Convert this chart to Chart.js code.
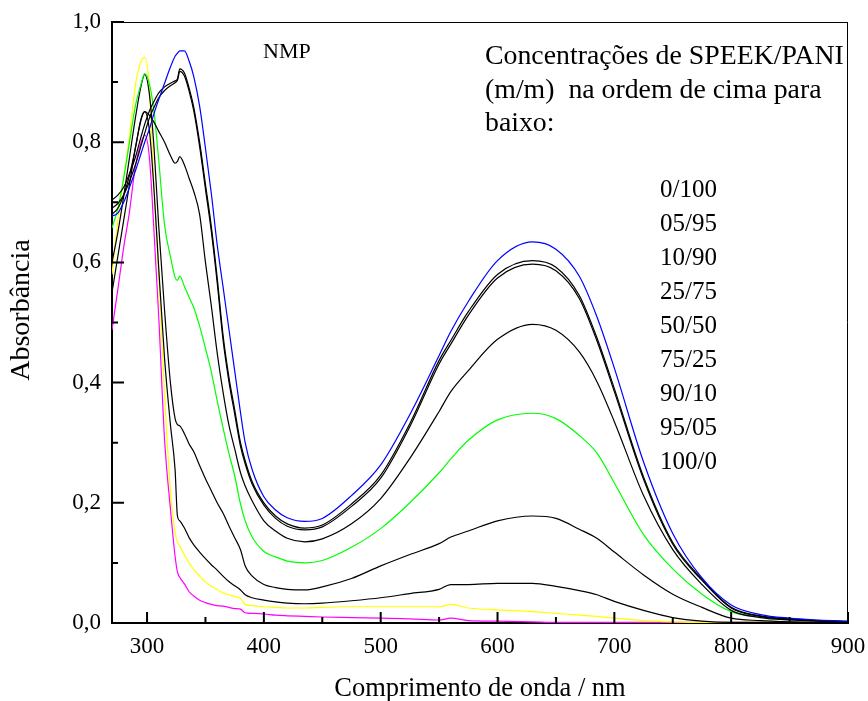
<!DOCTYPE html>
<html>
<head>
<meta charset="utf-8">
<script src="https://cdn.jsdelivr.net/npm/chart.js@4/dist/chart.umd.min.js"></script>
<style>
html,body{margin:0;padding:0;background:#fff;}
#wrap{width:868px;height:701px;}
</style>
</head>
<body>
<div id="wrap"><canvas id="c" width="868" height="701"></canvas></div>
<script>
// wavelength grid (nm)
const wavelengths = [270,275,280,285,290,295,298,302,306,310,315,320,324,326,328,332,336,340,345,350,355,360,365,370,375,380,384,390,400,410,420,435,450,475,500,525,550,560,575,600,630,650,670,685,700,725,750,775,800,825,850,875,900];

// SPEEK/PANI (m/m) series, absorbance
const s0_100 = [0.677,0.682,0.700,0.725,0.752,0.782,0.800,0.822,0.848,0.871,0.898,0.925,0.943,0.948,0.952,0.952,0.935,0.909,0.860,0.790,0.715,0.630,0.560,0.490,0.420,0.350,0.300,0.255,0.210,0.188,0.175,0.169,0.174,0.212,0.263,0.347,0.445,0.485,0.535,0.603,0.634,0.622,0.577,0.510,0.424,0.268,0.149,0.075,0.030,0.014,0.008,0.005,0.003];
const s05_95 = [0.704,0.712,0.725,0.748,0.775,0.810,0.830,0.852,0.868,0.882,0.892,0.898,0.902,0.905,0.922,0.915,0.890,0.858,0.800,0.730,0.660,0.575,0.480,0.410,0.355,0.300,0.270,0.235,0.200,0.178,0.165,0.158,0.163,0.198,0.246,0.332,0.437,0.470,0.518,0.580,0.603,0.592,0.545,0.475,0.390,0.243,0.134,0.073,0.026,0.012,0.007,0.004,0.002];
const s10_90 = [0.690,0.698,0.712,0.735,0.762,0.795,0.815,0.840,0.858,0.874,0.886,0.894,0.899,0.903,0.918,0.910,0.885,0.852,0.793,0.722,0.652,0.567,0.472,0.403,0.348,0.294,0.265,0.231,0.196,0.174,0.161,0.155,0.160,0.194,0.241,0.327,0.431,0.464,0.512,0.574,0.597,0.586,0.540,0.470,0.385,0.239,0.131,0.071,0.025,0.011,0.006,0.004,0.002];
const s25_75 = [0.680,0.690,0.712,0.745,0.790,0.838,0.851,0.845,0.833,0.818,0.800,0.778,0.765,0.768,0.776,0.762,0.740,0.718,0.680,0.600,0.528,0.450,0.385,0.330,0.290,0.250,0.228,0.203,0.170,0.153,0.141,0.135,0.140,0.165,0.207,0.274,0.352,0.385,0.420,0.472,0.497,0.487,0.451,0.402,0.335,0.212,0.122,0.064,0.021,0.009,0.005,0.003,0.002];
const s50_50 = [0.657,0.690,0.740,0.800,0.860,0.898,0.914,0.897,0.850,0.770,0.662,0.610,0.575,0.570,0.577,0.560,0.542,0.525,0.494,0.457,0.418,0.370,0.325,0.283,0.245,0.198,0.170,0.143,0.119,0.110,0.103,0.100,0.104,0.126,0.157,0.200,0.250,0.273,0.304,0.338,0.349,0.340,0.312,0.283,0.233,0.147,0.090,0.048,0.019,0.010,0.006,0.004,0.003];
const s75_25 = [0.600,0.650,0.710,0.775,0.840,0.895,0.913,0.880,0.790,0.660,0.520,0.400,0.340,0.330,0.328,0.315,0.298,0.285,0.262,0.240,0.220,0.200,0.183,0.162,0.142,0.122,0.095,0.078,0.064,0.059,0.056,0.055,0.060,0.074,0.095,0.114,0.132,0.143,0.153,0.170,0.178,0.174,0.156,0.141,0.118,0.080,0.048,0.026,0.008,0.004,0.002,0.001,0.001];
const s90_10 = [0.550,0.610,0.670,0.730,0.790,0.840,0.851,0.820,0.720,0.590,0.440,0.330,0.255,0.178,0.170,0.158,0.142,0.130,0.118,0.107,0.097,0.088,0.078,0.069,0.062,0.055,0.047,0.042,0.038,0.035,0.033,0.032,0.033,0.037,0.042,0.049,0.056,0.064,0.064,0.066,0.066,0.061,0.054,0.047,0.036,0.021,0.009,0.003,0.001,0.001,0.001,0.001,0.001];
const s95_05 = [0.580,0.670,0.740,0.810,0.895,0.935,0.941,0.890,0.720,0.580,0.380,0.220,0.150,0.135,0.128,0.113,0.100,0.089,0.078,0.068,0.061,0.056,0.050,0.047,0.044,0.041,0.031,0.029,0.027,0.026,0.025,0.025,0.026,0.027,0.027,0.027,0.027,0.031,0.025,0.022,0.019,0.016,0.013,0.011,0.008,0.004,0.002,0.001,0.001,0.001,0.001,0.001,0.001];
const s100_0 = [0.488,0.555,0.625,0.685,0.760,0.800,0.812,0.775,0.650,0.510,0.305,0.190,0.111,0.085,0.076,0.065,0.052,0.045,0.038,0.034,0.031,0.029,0.028,0.026,0.024,0.023,0.017,0.016,0.015,0.013,0.012,0.011,0.010,0.009,0.008,0.007,0.005,0.008,0.004,0.003,0.002,0.001,0.001,0.001,0.001,0.001,0.001,0.001,0.001,0.001,0.001,0.001,0.001];

const seriesLabels = ['0/100','05/95','10/90','25/75','50/50','75/25','90/10','95/05','100/0'];
const seriesValues = [s0_100,s05_95,s10_90,s25_75,s50_50,s75_25,s90_10,s95_05,s100_0];
const seriesColors = ['#0000ff','#000000','#000000','#000000','#00ff00','#000000','#000000','#ffff00','#ff00ff'];

const xTicks = [300,400,500,600,700,800,900];
const xMinor = [350,450,550,650,750,850];
const yTicks = [0,0.2,0.4,0.6,0.8,1.0];
const yMinor = [0.1,0.3,0.5,0.7,0.9];

const legendTitle = ['Concentrações de SPEEK/PANI','(m/m)  na ordem de cima para','baixo:'];
const solventLabel = 'NMP';
const yTitle = 'Absorbância';

const SERIF = "'Liberation Serif','Times New Roman',serif";

const framePlugin = {
  id:'frame',
  afterDraw(chart){
    const {ctx, chartArea:{left,right,top,bottom}, scales:{x,y}} = chart;
    ctx.save();
    ctx.strokeStyle='#000';
    ctx.lineWidth=1;
    ctx.beginPath();
    ctx.moveTo(left,top+0.5); ctx.lineTo(right,top+0.5);
    ctx.moveTo(right-0.5,top); ctx.lineTo(right-0.5,bottom);
    ctx.stroke();
    ctx.lineWidth=2;
    ctx.beginPath();
    xTicks.forEach(v=>{const p=x.getPixelForValue(v); ctx.moveTo(p,bottom); ctx.lineTo(p,bottom-11);});
    xMinor.forEach(v=>{const p=x.getPixelForValue(v); ctx.moveTo(p,bottom); ctx.lineTo(p,bottom-6);});
    yTicks.forEach(v=>{const p=y.getPixelForValue(v); ctx.moveTo(left,p); ctx.lineTo(left+12,p);});
    yMinor.forEach(v=>{const p=y.getPixelForValue(v); ctx.moveTo(left,p); ctx.lineTo(left+6,p);});
    ctx.stroke();
    // texts
    ctx.fillStyle='#000';
    ctx.textBaseline='middle';
    ctx.textAlign='left';
    ctx.font = "22px "+SERIF;
    ctx.fillText(solventLabel, 263, 52);
    ctx.font = "27.8px "+SERIF;
    legendTitle.forEach((t,i)=>ctx.fillText(t, 485, 57+i*33.5));
    ctx.font = "25px "+SERIF;
    seriesLabels.forEach((t,i)=>ctx.fillText(t, 660, 190+i*34));
    // y axis title
    ctx.save();
    ctx.translate(22, 310);
    ctx.rotate(-Math.PI/2);
    ctx.textAlign='center';
    ctx.font = "28px "+SERIF;
    ctx.fillText(yTitle, 0, 0);
    ctx.restore();
    ctx.restore();
  }
};

new Chart(document.getElementById('c'), {
  type:'line',
  data:{
    datasets: seriesValues.map((vals,i)=>({
      label: seriesLabels[i],
      data: wavelengths.map((w,j)=>({x:w,y:vals[j]})),
      borderColor: seriesColors[i],
      backgroundColor: seriesColors[i],
      borderWidth: 1.2,
      pointRadius: 0,
      fill:false,
      cubicInterpolationMode:'monotone'
    }))
  },
  options:{
    responsive:false,
    animation:false,
    layout:{padding:{left:0,top:22,right:20,bottom:0}},
    plugins:{legend:{display:false},tooltip:{enabled:false}},
    scales:{
      x:{
        type:'linear', min:270, max:900,
        afterBuildTicks: s => { s.ticks = xTicks.map(v=>({value:v})); },
        afterFit: s => { s.height = 78; s.paddingLeft = 0; s.paddingRight = 0; },
        grid:{display:true, drawOnChartArea:false, drawTicks:false},
        border:{display:true, width:2, color:'#000'},
        ticks:{padding:10, color:'#000', font:{family:SERIF, size:23}, maxRotation:0, autoSkip:false},
        title:{display:true, text:'Comprimento de onda / nm', color:'#000', font:{family:SERIF, size:26.5, lineHeight:1}, padding:{top:0,bottom:-1}}
      },
      y:{
        type:'linear', min:0, max:1,
        afterBuildTicks: s => { s.ticks = yTicks.map(v=>({value:v})); },
        afterFit: s => { s.width = 112; s.paddingTop = 0; s.paddingBottom = 0; },
        grid:{display:true, drawOnChartArea:false, drawTicks:false},
        border:{display:true, width:2, color:'#000'},
        ticks:{padding:11, color:'#000', font:{family:SERIF, size:23}, callback: v => v.toFixed(1).replace('.',',')},
        title:{display:false}
      }
    }
  },
  plugins:[framePlugin]
});
</script>
</body>
</html>
